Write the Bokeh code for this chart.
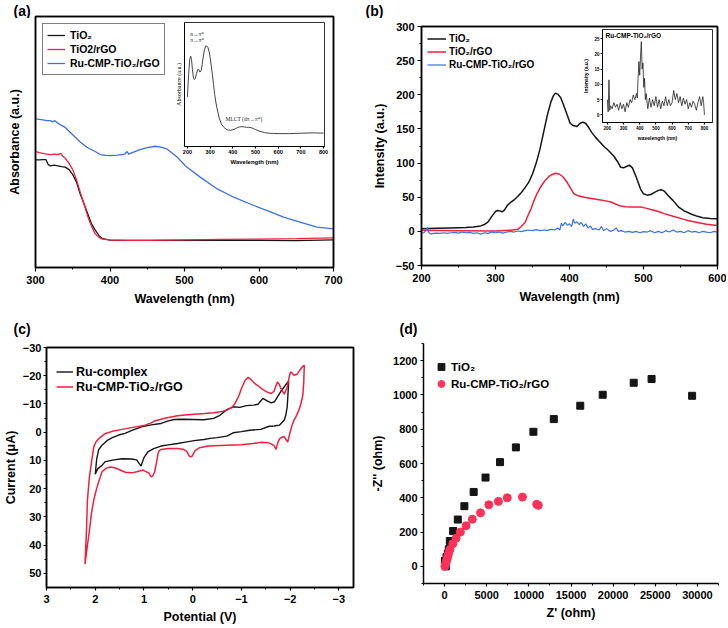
from bokeh.plotting import figure
from bokeh.models import Range1d, Legend, LegendItem, Label, FixedTicker, GridBox, LinearAxis
from bokeh.embed import file_html
from bokeh.resources import INLINE

FONT = "Liberation Sans"
SERIF = "Liberation Serif"
BLACK = "#151515"
RED = "#f0203e"
BLUE = "#3c6fe8"
PINK = "#ff3158"

# ---------------- (a) UV-vis absorbance ----------------
a_wl_k = [300, 305, 310, 314, 317, 320, 325, 330, 335, 340, 345, 350, 355, 360, 365, 370, 375, 380, 385, 390,
          400, 420, 450, 500, 550, 600, 650, 700]
a_k = [0.429, 0.429, 0.430, 0.430, 0.410, 0.405, 0.408, 0.405, 0.402, 0.400, 0.390, 0.370, 0.340, 0.293, 0.255,
       0.215, 0.175, 0.150, 0.128, 0.115, 0.109, 0.108, 0.108, 0.108, 0.109, 0.108, 0.107, 0.110]
a_wl_r = [300, 305, 310, 315, 320, 325, 330, 334, 337, 340, 345, 350, 355, 360, 365, 370, 375, 380, 385, 390,
          400, 420, 450, 500, 550, 600, 650, 700]
a_r = [0.463, 0.458, 0.455, 0.452, 0.450, 0.452, 0.450, 0.455, 0.442, 0.435, 0.415, 0.390, 0.350, 0.300, 0.254,
       0.205, 0.165, 0.135, 0.120, 0.113, 0.110, 0.108, 0.108, 0.110, 0.112, 0.113, 0.115, 0.118]
a_wl_b = [300, 305, 310, 315, 320, 323, 326, 330, 335, 340, 345, 351, 360, 369, 380, 387, 395, 400, 410, 420,
          423, 425, 430, 440, 450, 461, 470, 476, 490, 503, 521, 544, 566, 593, 611, 633, 655, 678, 700]
a_b = [0.592, 0.590, 0.588, 0.585, 0.585, 0.580, 0.585, 0.575, 0.566, 0.558, 0.543, 0.526, 0.500, 0.479, 0.462,
       0.450, 0.447, 0.446, 0.448, 0.452, 0.462, 0.452, 0.458, 0.470, 0.478, 0.483, 0.479, 0.473, 0.440, 0.400,
       0.360, 0.313, 0.280, 0.247, 0.227, 0.201, 0.181, 0.161, 0.154]
a_ticks = [300, 400, 500, 600, 700]
a_minor = [350, 450, 550, 650]

# inset of (a): Ru complex absorbance
ia_wl = [200, 205, 210, 214, 218, 222, 226, 230,
         235, 240, 245, 250, 255, 260, 265, 270, 275, 280, 285, 290, 295, 300, 305, 310, 315, 320, 325, 330,
         340, 350, 360, 370, 380, 390, 400, 410, 420, 430, 440, 450, 460, 470, 480, 490, 500,
         520, 540, 560, 580, 600, 650, 700, 750, 800]
ia_abs = [0.40, 0.58, 0.70, 0.73, 0.70, 0.62, 0.56, 0.54,
          0.55, 0.59, 0.62, 0.62, 0.60, 0.61, 0.66, 0.73, 0.78, 0.81, 0.81, 0.80, 0.77, 0.72, 0.65, 0.58, 0.50,
          0.42, 0.36, 0.31,
          0.23, 0.18, 0.155, 0.14, 0.132, 0.131, 0.135, 0.142, 0.152, 0.158, 0.16, 0.158, 0.155, 0.155, 0.152,
          0.145, 0.137,
          0.122, 0.112, 0.107, 0.105, 0.104, 0.104, 0.107, 0.11, 0.108]
ia_ticks = [200, 300, 400, 500, 600, 700, 800]

# ---------------- (b) PL spectra ----------------
b_wl_k = [200, 220, 240, 260, 270, 280, 285, 290, 295, 300, 303, 306, 309, 312, 316, 320, 325, 330, 335, 340,
          345, 350, 355, 360, 365, 370, 375, 378, 381, 384, 388, 392, 397, 401, 405, 410, 414, 418, 422, 426,
          430, 435, 440, 447, 453, 460, 465, 469, 473, 477, 481, 485, 490, 496, 500, 505, 510, 515, 520, 524,
          528, 533, 540, 548, 555, 565, 573, 580, 590, 600]
b_k = [4, 4.5, 5, 5.5, 6.5, 8, 10, 14, 22, 29, 30.5, 30, 28.5, 31, 38, 42, 46, 51, 57, 64,
       72, 84, 100, 120, 145, 170, 190, 198, 202.5, 201, 196, 185, 170, 158, 155, 153.5, 158, 160, 158, 152,
       145, 138, 132, 124, 118, 110, 102, 94, 93, 95, 97, 93, 80, 62, 55, 53, 54, 57, 60, 61,
       59, 53, 45, 35, 30, 25, 22, 20, 19, 18.6]
b_wl_r = [200, 250, 300, 320, 330, 334, 340, 343, 348, 352, 356, 361, 366, 372, 376, 381, 386, 391, 396, 400,
          406, 412, 420, 430, 438, 447, 456, 462, 469, 476, 483, 490, 496, 503, 510, 514, 520, 528, 540, 550,
          560, 573, 585, 600]
b_r = [1.5, 1, 0.6, 1.6, 3, 6.4, 13, 21, 33, 45, 55, 65, 73, 80, 83, 85, 84, 80, 73, 66,
       55, 52, 50, 48, 46.5, 45, 43, 40, 37, 36, 35.6, 35.5, 35.6, 34, 32, 31, 29, 26, 22, 19,
       16, 13, 10.5, 8.5]
b_wl_b = [200, 203, 206, 208, 210, 213, 216, 220,
          225, 230, 235, 240, 245, 250, 255, 260, 265, 270, 275, 280, 285, 290, 295, 300, 305, 310, 315, 320,
          325, 330, 335, 340, 345, 350, 355, 360, 365, 370, 375, 380,
          384, 387, 389, 391, 394, 397, 400, 403, 405, 407, 410, 413, 416, 419, 422, 425, 428, 431, 435, 440,
          443, 446, 450,
          455, 460, 463, 466, 470, 475,
          480, 485, 490, 495, 500, 505, 510, 515, 520, 525, 530, 535, 540, 545, 550, 555, 560, 565, 570, 575,
          580, 585, 590, 595, 600]
b_b = [-3, -2, 1, 6, -2, -4, -3, -2.5,
       -3, -2, -3, -2, -1.5, -2.5, -1, -2, -1.5, -3, -2, -4, -2, -3, -1, -2, -1, -2.5, -1, 0,
       -1, 0.5, -0.5, 1, 2, 1, 2.5, 1, 2, 1.5, 3, 2,
       5, 2, 12, 8, 13, 9, 11, 7, 18, 12, 14, 10, 13, 7, 11, 5, 8, 3, 4, 2,
       7, 1, 4,
       0, 2, 5, 0, 1, -1,
       0, -1.5, 0, -2, -0.5, -1, 1, -2, 0, -2, 1, -1, 2, -1, 0, -2, 1, -1, 0, -2,
       0, -1, -2, 0, -1]
b_xticks = [200, 300, 400, 500, 600]
b_xminor = [250, 350, 450, 550]
b_yticks = [-50, 0, 50, 100, 150, 200, 250, 300]
b_yminor = [-25, 25, 75, 125, 175, 225, 275]

# inset of (b): Ru-CMP-TiO2/rGO PL
ib_wl = [200, 205, 210, 215, 220,
         230, 240, 250, 260, 270, 280, 290, 300, 310, 320, 330, 340, 350, 360, 370, 380,
         385, 390, 395, 400, 405, 410, 415, 420, 425, 430, 435, 440,
         450, 460, 470, 480, 490, 500, 510, 520, 530, 540, 550, 560, 570, 580, 590, 600, 610, 620, 630, 640,
         650, 660, 670, 680, 690, 700, 710, 720, 730, 740, 750, 760, 770, 780, 790,
         795, 800]
ib_int = [5, 1, 11.5, 1.5, 3,
          2, 4, 2.5, 3.5, 1.5, 4, 2, 3.5, 1, 4, 2.5, 5, 4, 6.5, 5, 7,
          5.5, 12, 17.5, 13, 19, 24, 15, 17, 9, 12, 5, 7,
          2, 5.5, 2.5, 5, 3, 6, 2.5, 5, 2, 4.5, 3, 6, 3, 5, 3, 4, 8, 5, 7, 4,
          6, 3, 5.5, 3.5, 5, 2, 4, 2.5, 4.5, 3.5, 1.5, 4, 6, 3, 6,
          4, 0]
ib_xticks = [200, 300, 400, 500, 600, 700, 800]
ib_yticks = [0, 5, 10, 15, 20, 25]

# ---------------- (c) cyclic voltammetry ----------------
c_black_V = [2.00, 1.97, 1.93, 1.86, 1.76, 1.65, 1.52, 1.39, 1.22, 1.05,
             0.85, 0.65, 0.50, 0.38, 0.20, 0.00, -0.23, -0.43, -0.56, -0.70,
             -0.83, -0.97, -1.10, -1.25, -1.34, -1.44, -1.52, -1.61, -1.68, -1.74,
             -1.81, -1.88, -1.93, -1.97, -1.96, -1.94, -1.91, -1.88, -1.78, -1.67,
             -1.57, -1.40, -1.17, -1.00, -0.83, -0.70, -0.50, -0.36, -0.23, -0.03,
             0.15, 0.31, 0.50, 0.65, 0.80, 0.92, 1.00, 1.06, 1.15, 1.25,
             1.45, 1.65, 1.80, 1.86, 1.95, 2.00]
c_black_I = [14.9, 9.5, 6.2, 4.6, 3.0, 1.9, 1.0, 0.4, -0.8, -1.9,
             -2.6, -3.1, -4.0, -4.5, -4.6, -4.5, -4.4, -4.9, -6.0, -8.0,
             -9.0, -8.8, -9.4, -9.6, -9.9, -12.0, -11.2, -10.4, -10.8, -12.5,
             -14.5, -16.1, -17.3, -18.2, -14.9, -9.0, -6.0, -4.3, -2.5, -2.2,
             -2.1, -1.0, -0.7, -0.2, 0.2, 1.4, 1.9, 2.2, 2.6, 3.0,
             3.5, 4.0, 4.5, 4.9, 5.8, 7.0, 9.0, 12.0, 9.8, 9.5,
             9.4, 9.9, 10.5, 11.7, 13.0, 14.9]
c_red_V = [2.21, 2.18, 2.16, 2.12, 2.09, 2.05, 2.03, 1.98, 1.92, 1.85,
           1.79, 1.65, 1.45, 1.20, 0.98, 0.85, 0.78, 0.55, 0.31, 0.10,
           -0.03, -0.25, -0.43, -0.60, -0.70, -0.80, -0.87, -0.95, -1.00, -1.08,
           -1.14, -1.20, -1.27, -1.36, -1.44, -1.53, -1.61, -1.67, -1.71, -1.74,
           -1.78, -1.81, -1.88, -1.94, -1.98, -2.01, -2.05, -2.08, -2.14, -2.20,
           -2.25, -2.29, -2.28, -2.26, -2.22, -2.18, -2.12, -2.08, -2.04, -2.01,
           -1.97, -1.95, -1.91, -1.88, -1.84, -1.79, -1.75, -1.71, -1.67, -1.64,
           -1.55, -1.40, -1.24, -1.00, -0.70, -0.45, -0.29, -0.14, -0.05, 0.02,
           0.07, 0.12, 0.20, 0.31, 0.50, 0.65, 0.69, 0.71, 0.74, 0.78,
           0.82, 0.85, 0.90, 1.02, 1.15, 1.25, 1.38, 1.49, 1.60, 1.69,
           1.78, 1.86, 1.92, 1.98, 2.03, 2.08, 2.12, 2.16, 2.21]
c_red_I = [46.7, 35, 24, 16, 12.3, 7.5, 5.2, 3.3, 2.2, 1.2,
           0.45, -0.3, -1.0, -1.8, -2.5, -3.3, -4.0, -5.0, -5.8, -6.2,
           -6.4, -6.6, -6.9, -7.3, -7.8, -8.7, -10.2, -13.0, -15.5, -18.5,
           -19.4, -18.6, -17.3, -16.2, -15.1, -14.2, -13.7, -14.5, -16.5, -17.8,
           -16.8, -15.5, -13.5, -16.0, -19.5, -21.4, -20.8, -20.2, -20.5, -22.0,
           -23.2, -23.7, -18.0, -13.0, -10.0, -7.8, -5.5, -4.3, -2.5, -0.7,
           2.0, 3.5, 2.5, 1.6, 1.7, 2.2, 3.5, 6.1, 4.8, 4.4,
           3.7, 3.6, 4.0, 4.4, 4.6, 4.8, 5.0, 5.5, 6.5, 8.7,
           8.5, 6.8, 6.0, 5.75, 5.8, 6.1, 6.6, 7.5, 10.5, 14.0,
           15.5, 15.8, 14.5, 13.4, 14.0, 14.4, 14.2, 13.4, 12.6, 12.3,
           12.8, 14.0, 17.0, 20.5, 24.0, 29, 35, 40, 46.7]
c_xticks = [3, 2, 1, 0, -1, -2, -3]
c_xminor = [2.5, 1.5, 0.5, -0.5, -1.5, -2.5]
c_yticks = [-30, -20, -10, 0, 10, 20, 30, 40, 50]
c_yminor = [-25, -15, -5, 5, 15, 25, 35, 45]

# ---------------- (d) Nyquist plot ----------------
d_tio2_x = [150, 40, 230, 390, 500, 625, 1020, 1570, 2350, 3450, 4860, 6580, 8460, 10540, 12960, 16100,
            18760, 22440, 24560, 29370]
d_tio2_y = [0, 31, 54, 74, 100, 148, 206, 273, 351, 434, 518, 608, 694, 785, 859, 937, 1001, 1071, 1093, 995]
d_ru_x = [35, 117, 196, 274, 352, 470, 627, 980, 1370, 1880, 2550, 3290, 4270, 5250, 6385, 7440, 9240,
          10930, 11120]
d_ru_y = [0, 12, 25, 39, 54, 74, 97, 132, 164, 200, 237, 275, 312, 359, 379, 400, 404, 362, 356]
d_xticks = [0, 5000, 10000, 15000, 20000, 25000, 30000]
d_xminor = [-2500, 2500, 7500, 12500, 17500, 22500, 27500, 32500]
d_yticks = [0, 200, 400, 600, 800, 1000, 1200]
d_yminor = [-100, 100, 300, 500, 700, 900, 1100, 1300]

panel_tags = ["(a)", "(b)", "(c)", "(d)"]


def make_fig(w, h, xr, yr, borders, outline=True, clear=False):
    p = figure(width=w, height=h, x_range=xr, y_range=yr, output_backend="svg", toolbar_location=None,
               min_border_left=borders[0], min_border_right=borders[1],
               min_border_top=borders[2], min_border_bottom=borders[3])
    p.frame_align = False
    p.outline_line_color = "black" if outline else None
    p.outline_line_width = 1.5
    p.xgrid.visible = False
    p.ygrid.visible = False
    p.border_fill_color = None
    if clear:
        p.background_fill_color = None
    return p


def close_box(p, lw=1.5):
    # plain axis lines on the top and right side to close the frame
    for side in ("above", "right"):
        ax = LinearAxis(ticker=FixedTicker(ticks=[], minor_ticks=[]))
        ax.axis_line_width = lw
        ax.axis_line_color = "black"
        ax.major_tick_out = 0
        ax.major_tick_in = 0
        ax.minor_tick_out = 0
        ax.minor_tick_in = 0
        ax.major_label_standoff = 0
        ax.major_label_text_font_size = "0px"
        p.add_layout(ax, side)


def style_axes(p, tick_size="11px", label_size="12.5px", lw=1.5, tick_out=4, minor_out=2):
    for ax in p.axis:
        ax.axis_line_width = lw
        ax.axis_line_color = "black"
        ax.major_tick_out = tick_out
        ax.major_tick_in = 0
        ax.minor_tick_out = minor_out
        ax.minor_tick_in = 0
        ax.major_tick_line_width = 1.2
        ax.minor_tick_line_width = 1.0
        ax.major_label_text_font = FONT
        ax.major_label_text_font_style = "bold"
        ax.major_label_text_font_size = tick_size
        ax.major_label_text_color = "black"
        ax.axis_label_text_font = FONT
        ax.axis_label_text_font_style = "bold"
        ax.axis_label_text_font_size = label_size
        ax.axis_label_text_color = "black"


def tag_fig(text, w, h, tx, ty):
    t = figure(width=w, height=h, x_range=Range1d(0, w), y_range=Range1d(h, 0), output_backend="svg",
               toolbar_location=None, x_axis_type=None, y_axis_type=None, min_border=0)
    t.frame_align = False
    t.outline_line_color = None
    t.border_fill_color = None
    t.background_fill_color = None
    t.add_layout(Label(x=tx, y=ty, text=text, text_font=FONT, text_font_style="bold", text_font_size="14px",
                       text_baseline="top", text_align="left", text_color="black"))
    return t


def legend_style(lg, size="11px"):
    lg.label_text_font = FONT
    lg.label_text_font_style = "bold"
    lg.label_text_font_size = size
    lg.label_text_color = "black"


# ---- panel (a)
pa = make_fig(364, 312, Range1d(300, 700), Range1d(0, 1), (35, 31, 16, 45), clear=True)
style_axes(pa)
pa.xaxis.ticker = FixedTicker(ticks=a_ticks, minor_ticks=a_minor)
pa.xaxis.major_label_standoff = 4
pa.xaxis.axis_label_standoff = 5
pa.xaxis.axis_label = "Wavelength (nm)"
pa.yaxis.ticker = FixedTicker(ticks=[], minor_ticks=[])
pa.yaxis.major_tick_out = 0
pa.yaxis.minor_tick_out = 0
pa.yaxis.major_label_standoff = 0
pa.yaxis.axis_label_standoff = 14
pa.yaxis.axis_label = "Absorbance (a.u.)"
close_box(pa)
ra_k = pa.line(a_wl_k, a_k, line_color=BLACK, line_width=1.3)
ra_r = pa.line(a_wl_r, a_r, line_color=RED, line_width=1.3)
ra_b = pa.line(a_wl_b, a_b, line_color=BLUE, line_width=1.3)
la = Legend(items=[LegendItem(label="TiO₂", renderers=[ra_k]),
                   LegendItem(label="TiO2/rGO", renderers=[ra_r]),
                   LegendItem(label="Ru-CMP-TiO₂/rGO", renderers=[ra_b])],
            location="top_left", margin=7, padding=4, spacing=0, label_height=14, glyph_height=14,
            glyph_width=18, label_standoff=5, border_line_color="black", border_line_width=1)
legend_style(la, "10.5px")
pa.add_layout(la)

# ---- inset (a): same grid cell as panel (a); wide transparent borders put its frame in place
ia = make_fig(330, 168, Range1d(187, 804), Range1d(0, 1), (184, 6, 22, 22))
ia.outline_line_width = 1
ia.outline_line_color = "#333333"
style_axes(ia, tick_size="5.5px", label_size="6px", lw=1, tick_out=2, minor_out=0)
ia.xaxis.ticker = FixedTicker(ticks=ia_ticks, minor_ticks=[])
ia.xaxis.major_label_standoff = 1
ia.xaxis.axis_label_standoff = 2
ia.xaxis.axis_label = "Wavelength (nm)"
ia.yaxis.ticker = FixedTicker(ticks=[], minor_ticks=[])
ia.yaxis.major_tick_out = 0
ia.yaxis.major_label_standoff = 0
ia.yaxis.axis_label_standoff = 3
ia.yaxis.axis_label = "Absorbance (a.u.)"
ia.yaxis.axis_label_text_font = SERIF
ia.yaxis.axis_label_text_font_style = "normal"
ia.line(ia_wl, ia_abs, line_color="#444444", line_width=1)
for txt, lx, ly in [("n→π*", 212, 0.905), ("π→π*", 212, 0.86), ("MLCT (dπ→π*)", 368, 0.225)]:
    ia.add_layout(Label(x=lx, y=ly, text=txt, text_font=SERIF, text_font_size="5.5px",
                        text_baseline="middle", text_align="left", text_color="#222222"))

# ---- panel (b)
pb = make_fig(362, 312, Range1d(200, 600), Range1d(-50, 300), (57, 9, 26, 47), clear=True)
style_axes(pb)
pb.xaxis.ticker = FixedTicker(ticks=b_xticks, minor_ticks=b_xminor)
pb.yaxis.ticker = FixedTicker(ticks=b_yticks, minor_ticks=b_yminor)
pb.xaxis.major_label_standoff = 4
pb.xaxis.axis_label_standoff = 5
pb.yaxis.major_label_standoff = 3
pb.yaxis.axis_label_standoff = 6
pb.xaxis.axis_label = "Wavelength (nm)"
pb.yaxis.axis_label = "Intensity (a.u.)"
close_box(pb)
rb_k = pb.line(b_wl_k, b_k, line_color=BLACK, line_width=1.5)
rb_r = pb.line(b_wl_r, b_r, line_color=RED, line_width=1.5)
rb_b = pb.line(b_wl_b, b_b, line_color=BLUE, line_width=1.2)
lb = Legend(items=[LegendItem(label="TiO₂", renderers=[rb_k]),
                   LegendItem(label="TiO₂/rGO", renderers=[rb_r]),
                   LegendItem(label="Ru-CMP-TiO₂/rGO", renderers=[rb_b])],
            location="top_left", margin=6, padding=5, spacing=0, label_height=13, glyph_height=13,
            glyph_width=19, label_standoff=3, border_line_color=None, background_fill_alpha=0)
legend_style(lb, "10px")
pb.add_layout(lb)

# ---- inset (b): same grid cell as panel (b)
ib = make_fig(352, 168, Range1d(170, 850), Range1d(-2.5, 28), (238, 4, 29, 46))
ib.outline_line_width = 1
ib.outline_line_color = "#333333"
style_axes(ib, tick_size="4.5px", label_size="5px", lw=1, tick_out=2, minor_out=0)
ib.xaxis.ticker = FixedTicker(ticks=ib_xticks, minor_ticks=[])
ib.yaxis.ticker = FixedTicker(ticks=ib_yticks, minor_ticks=[])
for ax in ib.axis:
    ax.major_label_standoff = 1
    ax.axis_label_standoff = 2
ib.xaxis.axis_label = "wavelength (nm)"
ib.yaxis.axis_label = "Intensity (a.u.)"
ib.line(ib_wl, ib_int, line_color="#222222", line_width=0.8)
ib.add_layout(Label(x=170, y=28, x_offset=3, y_offset=-2, text="Ru-CMP-TiO₂/rGO", text_font=FONT,
                    text_font_style="bold", text_font_size="6.5px", text_baseline="top", text_align="left",
                    text_color="black"))

# ---- panel (c)
pc = make_fig(364, 314, Range1d(3, -3.3), Range1d(55, -30), (40, 11, 35, 39), clear=True)
style_axes(pc, tick_out=3)
pc.xaxis.ticker = FixedTicker(ticks=c_xticks, minor_ticks=c_xminor)
pc.yaxis.ticker = FixedTicker(ticks=c_yticks, minor_ticks=c_yminor)
pc.xaxis.major_label_standoff = 4
pc.xaxis.axis_label_standoff = 4
pc.yaxis.major_label_standoff = 2
pc.yaxis.axis_label_standoff = 2
pc.xaxis.axis_label = "Potential (V)"
pc.yaxis.axis_label = "Current (μA)"
close_box(pc)
rc_k = pc.line(c_black_V, c_black_I, line_color=BLACK, line_width=1.4)
rc_r = pc.line(c_red_V, c_red_I, line_color=RED, line_width=1.5)
lc = Legend(items=[LegendItem(label="Ru-complex", renderers=[rc_k]),
                   LegendItem(label="Ru-CMP-TiO₂/rGO", renderers=[rc_r])],
            location=(10, 193), margin=0, padding=0, spacing=0, label_height=15, glyph_height=15,
            glyph_width=17, label_standoff=3, border_line_color=None, background_fill_alpha=0)
legend_style(lc, "12.5px")
pc.add_layout(lc)

# ---- panel (d)
pd_ = make_fig(362, 314, Range1d(-2500, 32500), Range1d(-100, 1300), (59, 8, 31, 43), outline=False, clear=True)
style_axes(pd_, tick_out=3)
pd_.xaxis.ticker = FixedTicker(ticks=d_xticks, minor_ticks=d_xminor)
pd_.yaxis.ticker = FixedTicker(ticks=d_yticks, minor_ticks=d_yminor)
pd_.xaxis.major_label_standoff = 4
pd_.xaxis.axis_label_standoff = 4
pd_.yaxis.major_label_standoff = 3
pd_.yaxis.axis_label_standoff = 5
pd_.xaxis.axis_label = "Z' (ohm)"
pd_.yaxis.axis_label = "-Z'' (ohm)"
rd_k = pd_.scatter(d_tio2_x, d_tio2_y, marker="square", size=7, fill_color=BLACK, line_color=BLACK)
rd_r = pd_.scatter(d_ru_x, d_ru_y, marker="circle", size=8, fill_color=PINK, line_color=PINK)
ld = Legend(items=[LegendItem(label="TiO₂", renderers=[rd_k]),
                   LegendItem(label="Ru-CMP-TiO₂/rGO", renderers=[rd_r])],
            location=(9, 191), margin=0, padding=0, spacing=0, label_height=17, glyph_height=17,
            glyph_width=18, label_standoff=1, border_line_color=None, background_fill_alpha=0)
legend_style(ld, "11.5px")
pd_.add_layout(ld)

# ---- panel tags (a)-(d)
ta = tag_fig(panel_tags[0], 40, 18, 13, 2)
tb = tag_fig(panel_tags[1], 30, 18, 1, 2)
tc = tag_fig(panel_tags[2], 40, 26, 13, 8)
td = tag_fig(panel_tags[3], 60, 26, 35, 8)

# simple 2 x 2 grid; insets and tags share the cell of their panel
grid = GridBox(children=[(ia, 0, 0), (ib, 0, 1),
                         (pa, 0, 0), (pb, 0, 1), (pc, 1, 0), (pd_, 1, 1),
                         (ta, 0, 0), (tb, 0, 1), (tc, 1, 0), (td, 1, 1)],
               rows=["312px", "314px"],
               cols=["364px", "362px"],
               spacing=0)

open("out.html", "w").write(file_html(grid, INLINE))
